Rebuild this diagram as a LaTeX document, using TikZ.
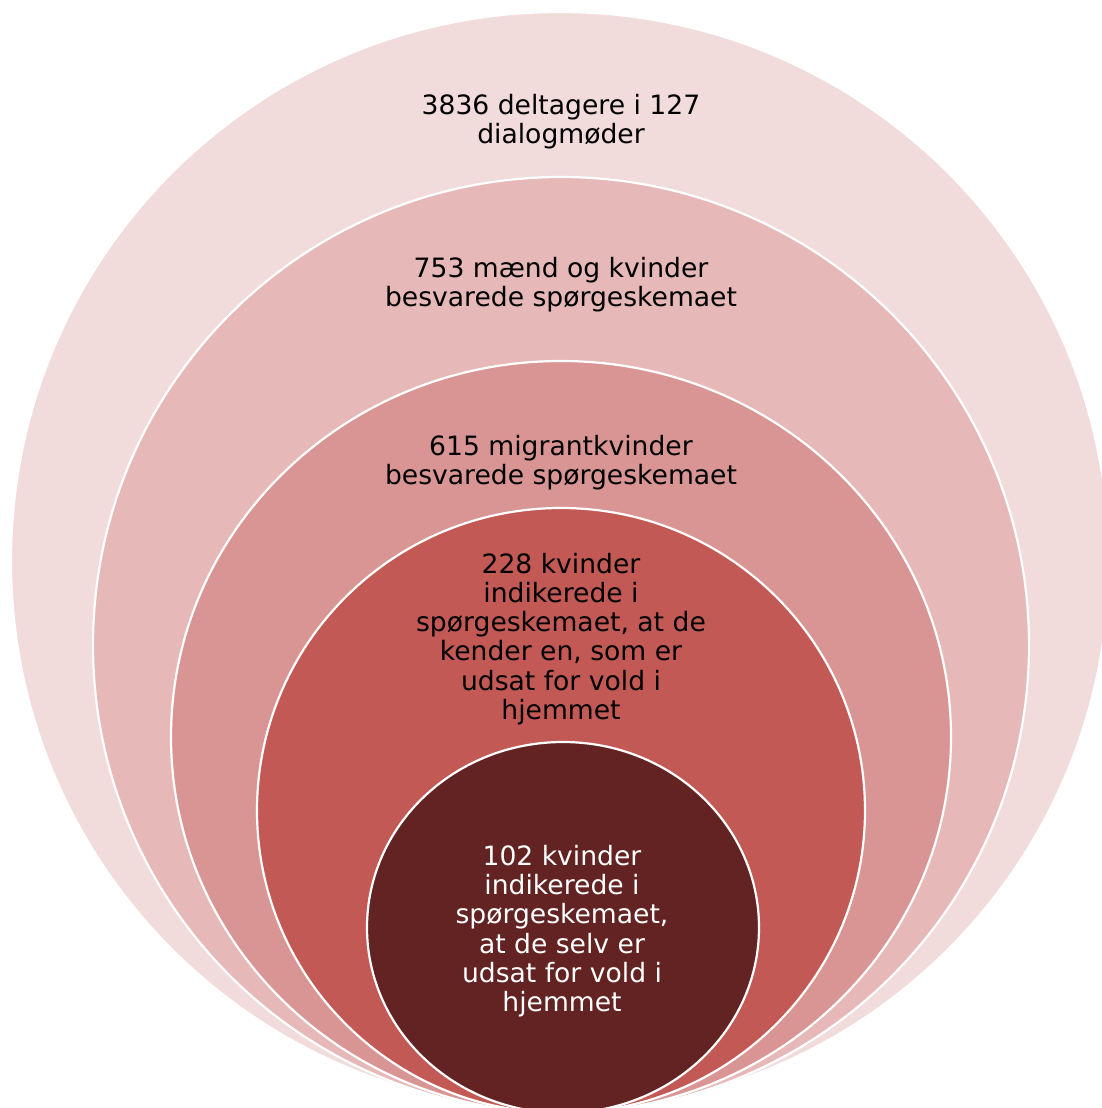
\documentclass[tikz,border=0pt]{standalone}
\usepackage{fontspec}
\setmainfont{DejaVu Sans}
\definecolor{ringA}{HTML}{F1DBDB}
\definecolor{ringB}{HTML}{E6B8B8}
\definecolor{ringC}{HTML}{D99594}
\definecolor{ringD}{HTML}{C25955}
\definecolor{ringE}{HTML}{632323}
\tikzset{
  ring/.style={draw=white, line width=2.2pt},
  lbl/.style={align=center, inner sep=0pt, font=\fontsize{26.6}{29.3}\selectfont, text=black},
}
\begin{document}
\begin{tikzpicture}[x=1pt,y=-1pt]
\useasboundingbox (0,0) rectangle (1102,1108);
\fill[white] (0,0) rectangle (1102,1108);
\clip (0,0) rectangle (1102,1108);
\path[ring, fill=ringA] (560,561) ellipse [x radius=549pt, y radius=549pt];
\path[ring, fill=ringB] (561,645) ellipse [x radius=468pt, y radius=468pt];
\path[ring, fill=ringC] (561,737) ellipse [x radius=390pt, y radius=376pt];
\path[ring, fill=ringD] (561,810.5) ellipse [x radius=304pt, y radius=302.5pt];
\path[ring, fill=ringE] (563,927.5) ellipse [x radius=196pt, y radius=185.5pt];
\node[lbl] (t1) at (561,122) {3836 deltagere i 127\\dialogmøder};
\node[lbl] (t2) at (561,285) {753 mænd og kvinder\\besvarede spørgeskemaet};
\node[lbl] (t3) at (561,463) {615 migrantkvinder\\besvarede spørgeskemaet};
\node[lbl] (t4) at (561,639) {228 kvinder\\indikerede i\\spørgeskemaet, at de\\kender en, som er\\udsat for vold i\\hjemmet};
\node[lbl, text=white] (t5) at (562,931) {102 kvinder\\indikerede i\\spørgeskemaet,\\at de selv er\\udsat for vold i\\hjemmet};
\end{tikzpicture}
\end{document}
